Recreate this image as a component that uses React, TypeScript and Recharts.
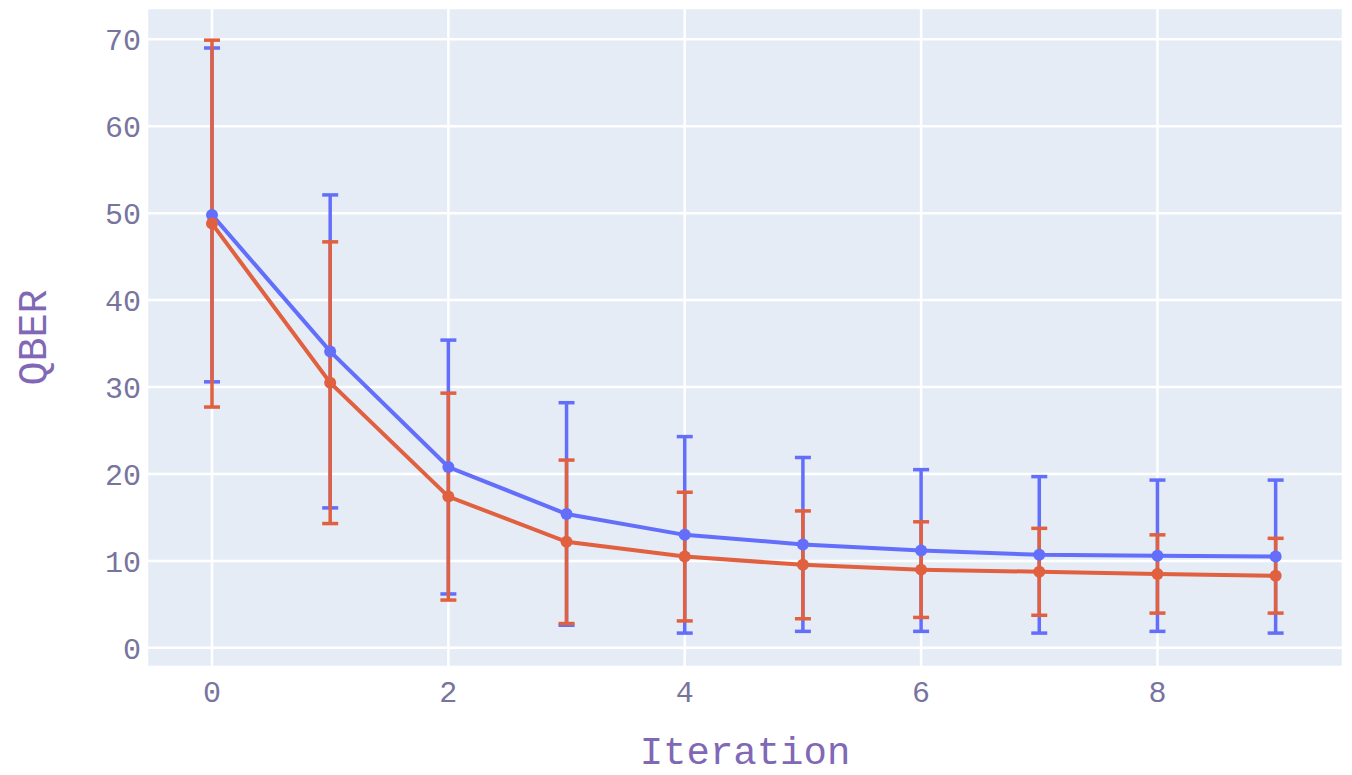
import { LineChart, Line, XAxis, YAxis, CartesianGrid, ErrorBar } from "recharts";

// QBER per iteration, two runs, with symmetric error bars
const iterations = [0, 1, 2, 3, 4, 5, 6, 7, 8, 9];
const blueMean = [49.8, 34.1, 20.8, 15.4, 13.0, 11.9, 11.2, 10.7, 10.6, 10.5];
const blueErr = [19.2, 18.0, 14.6, 12.8, 11.3, 10.0, 9.3, 9.0, 8.7, 8.8];
const redMean = [48.8, 30.5, 17.4, 12.2, 10.5, 9.55, 9.0, 8.75, 8.5, 8.3];
const redErr = [21.1, 16.2, 11.9, 9.4, 7.4, 6.2, 5.5, 5.0, 4.5, 4.3];
const xTicks = [0, 2, 4, 6, 8];
const yTicks = [0, 10, 20, 30, 40, 50, 60, 70];

const data = iterations.map((it, i) => ({
  iteration: it,
  blue: blueMean[i],
  blueErr: blueErr[i],
  red: redMean[i],
  redErr: redErr[i],
}));

const FONT = '"Courier New", "Liberation Mono", monospace';
const TICK_COLOR = "#77749e";
const TITLE_COLOR = "#8068b6";
const BLUE = "#636efa";
const RED = "#e0603f";

const tickStyle = { fontFamily: FONT, fontSize: 30, fill: TICK_COLOR };

function YTitle({ viewBox }: any) {
  const cx = 35;
  const cy = viewBox.y + viewBox.height / 2;
  return (
    <text
      x={cx}
      y={cy}
      transform={`rotate(-90, ${cx}, ${cy})`}
      textAnchor="middle"
      dominantBaseline="central"
      fontFamily={FONT}
      fontSize={40}
      fill={TITLE_COLOR}
    >
      QBER
    </text>
  );
}

function XTitle({ viewBox }: any) {
  const cx = viewBox.x + viewBox.width / 2;
  return (
    <text
      x={cx}
      y={764}
      textAnchor="middle"
      fontFamily={FONT}
      fontSize={39}
      fill={TITLE_COLOR}
    >
      Iteration
    </text>
  );
}

export default function App() {
  return (
    <div style={{ position: "absolute", left: 0, top: 0, width: 1352, height: 775, background: "#fff" }}>
      <LineChart width={1352} height={775} data={data} margin={{ top: 8, right: 9, left: 0, bottom: 0 }}>
        <CartesianGrid stroke="#ffffff" strokeWidth={2.5} fill="#e5ecf6" fillOpacity={1} />
        <XAxis
          dataKey="iteration"
          type="number"
          domain={[-0.55, 9.57]}
          ticks={xTicks}
          allowDataOverflow
          axisLine={false}
          tickLine={false}
          tickSize={0}
          tickMargin={14}
          height={108}
          tick={tickStyle}
          label={<XTitle />}
        />
        <YAxis
          type="number"
          domain={[-2.2, 73.6]}
          ticks={yTicks}
          allowDataOverflow
          axisLine={false}
          tickLine={false}
          tickSize={0}
          tickMargin={6}
          width={147}
          tick={tickStyle}
          label={<YTitle />}
        />
        <Line
          dataKey="blue"
          stroke={BLUE}
          strokeWidth={4}
          dot={{ r: 6, fill: BLUE, stroke: BLUE, strokeWidth: 0 }}
          isAnimationActive={false}
        >
          <ErrorBar dataKey="blueErr" width={8} stroke={BLUE} strokeWidth={3.5} direction="y" isAnimationActive={false} />
        </Line>
        <Line
          dataKey="red"
          stroke={RED}
          strokeWidth={4}
          dot={{ r: 6, fill: RED, stroke: RED, strokeWidth: 0 }}
          isAnimationActive={false}
        >
          <ErrorBar dataKey="redErr" width={8} stroke={RED} strokeWidth={3.5} direction="y" isAnimationActive={false} />
        </Line>
      </LineChart>
    </div>
  );
}
